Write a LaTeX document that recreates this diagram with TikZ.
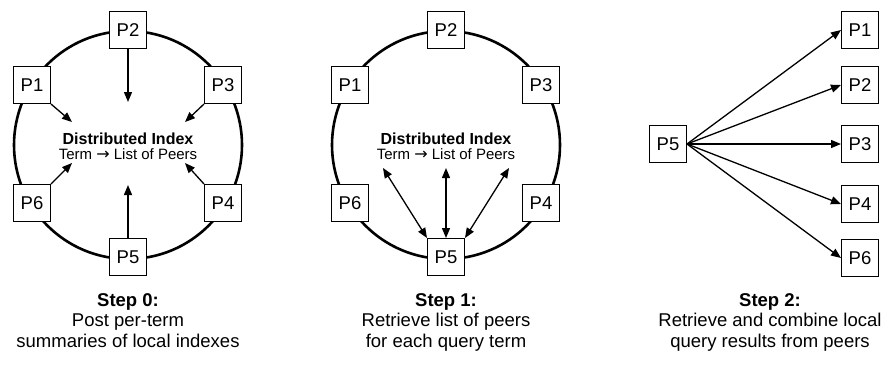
\documentclass[tikz,border=0pt]{standalone}
\usepackage{fontspec}
\setmainfont{Liberation Sans}
\newfontfamily\arrowfont{DejaVu Sans}
\usetikzlibrary{arrows.meta}
\newcommand{\myarrow}{{\arrowfont\fontsize{16}{16}\selectfont →}}
\tikzset{
  peer/.style={draw, line width=1pt, fill=white, minimum width=37pt, minimum height=37pt, inner sep=0pt, font=\fontsize{18.5}{20}\selectfont},
  ring/.style={line width=2.6pt},
  conn/.style={line width=1.3pt, -{Triangle[length=10pt,width=8pt]}},
  bconn/.style={line width=1.3pt, {Triangle[length=10pt,width=8pt]}-{Triangle[length=10pt,width=8pt]}},
  idx/.style={align=center, inner sep=0pt, font=\fontsize{15}{16}\selectfont},
  caption/.style={align=center, inner sep=0pt, anchor=north, font=\fontsize{18.5}{20.5}\selectfont}
}
\begin{document}
\begin{tikzpicture}[x=1pt,y=-1pt]
\useasboundingbox (0,0) rectangle (881,370);
% ---------- Step 0 ----------
\draw[ring] (128,145) circle [radius=114pt];
\node[peer] (a2) at (128,30) {P2};
\node[peer] (a1) at (32,85) {P1};
\node[peer] (a3) at (223,85) {P3};
\node[peer] (a6) at (32,203) {P6};
\node[peer] (a4) at (223,203) {P4};
\node[peer] (a5) at (128,257) {P5};
\node[idx] (ai) at (128,146) {\fontsize{16}{18}\selectfont\bfseries Distributed Index\\[-1pt]Term \myarrow{} List of Peers};
\coordinate (ea2) at (128,102);
\coordinate (ea1) at (72,122);
\coordinate (ea3) at (185,122);
\coordinate (ea6) at (72,163);
\coordinate (ea4) at (185,163);
\coordinate (ea5) at (128,185);
\draw[conn] (a2.south) -- (ea2);
\draw[conn] (a1.south east) -- (ea1);
\draw[conn] (a3.south west) -- (ea3);
\draw[conn] (a6.north east) -- (ea6);
\draw[conn] (a4.north west) -- (ea4);
\draw[conn] (a5.north) -- (ea5);
\node[caption] (ac) at (128,293) {\bfseries Step 0:\\Post per-term\\summaries of local indexes};
% ---------- Step 1 ----------
\draw[ring] (446,145) circle [radius=114pt];
\node[peer] (b2) at (446,30) {P2};
\node[peer] (b1) at (350,85) {P1};
\node[peer] (b3) at (541,85) {P3};
\node[peer] (b6) at (350,203) {P6};
\node[peer] (b4) at (541,203) {P4};
\node[peer] (b5) at (446,257) {P5};
\node[idx] (bi) at (446,146) {\fontsize{16}{18}\selectfont\bfseries Distributed Index\\[-1pt]Term \myarrow{} List of Peers};
\coordinate (eb1) at (383,168);
\coordinate (eb2) at (446,168);
\coordinate (eb3) at (509,168);
\draw[bconn] (b5.north west) -- (eb1);
\draw[bconn] (b5.north) -- (eb2);
\draw[bconn] (b5.north east) -- (eb3);
\node[caption] (bc) at (446,293) {\bfseries Step 1:\\Retrieve list of peers\\for each query term};
% ---------- Step 2 ----------
\node[peer] (c5) at (668,144) {P5};
\node[peer] (c1) at (860,30) {P1};
\node[peer] (c2) at (860,85) {P2};
\node[peer] (c3) at (860,144) {P3};
\node[peer] (c4) at (860,204) {P4};
\node[peer] (c6) at (860,258) {P6};
\foreach \t in {c1,c2,c3,c4,c6} \draw[conn] (c5.east) -- (\t.west);
\node[caption] (cc) at (770,293) {\bfseries Step 2:\\Retrieve and combine local\\query results from peers};
\end{tikzpicture}
\end{document}
